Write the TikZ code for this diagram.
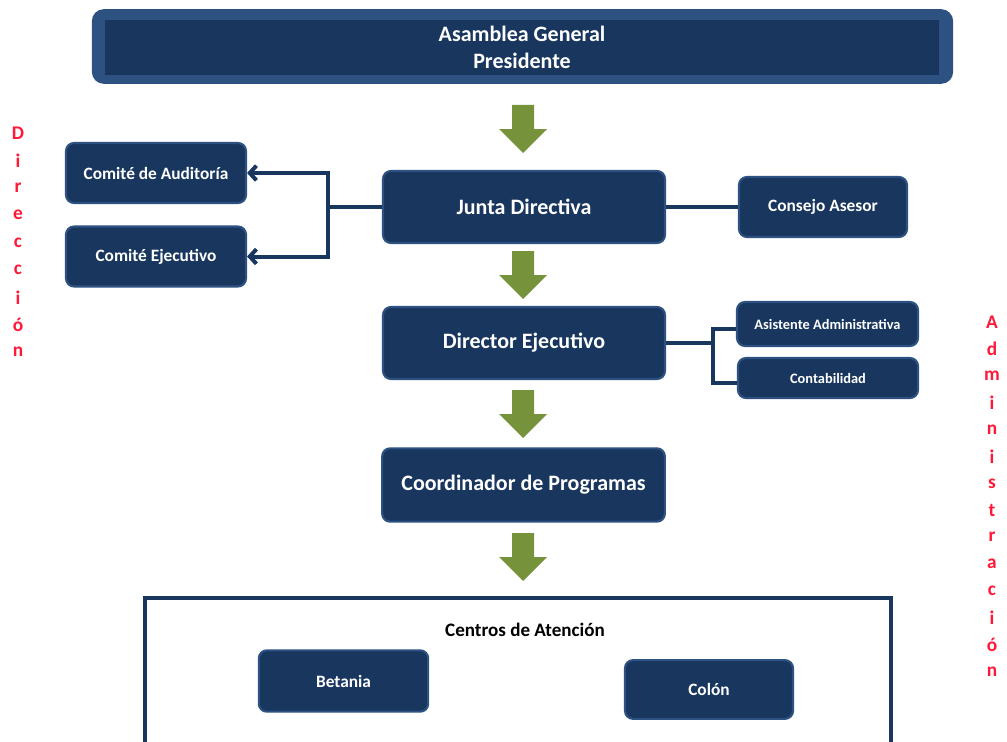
\documentclass[tikz,border=0pt]{standalone}
\usepackage{fontspec}
\setmainfont{Carlito}
\usetikzlibrary{arrows.meta}

\definecolor{navy}{RGB}{24,54,94}
\definecolor{navyedge}{RGB}{45,82,130}
\definecolor{olive}{RGB}{118,147,60}
\definecolor{redtxt}{RGB}{255,24,56}

\tikzset{
  orgbox/.style={draw=navyedge, fill=navy, line width=1.6pt, rounded corners=6pt,
    text=white, font=\bfseries, align=center, inner sep=0pt},
  link/.style={draw=navy, line width=3pt},
  sidetxt/.style={text=redtxt, font=\bfseries\fontsize{14.5}{14.5}\selectfont, inner sep=0pt}
}

\begin{document}
\begin{tikzpicture}[x=0.75pt,y=0.75pt,yscale=-1,xscale=1]
\useasboundingbox (0,0) rectangle (1007,742);

%Shape: Rounded Rect (Asamblea)
\node [orgbox, line width=0pt, draw=none, fill=navyedge, rounded corners=9pt, minimum width=646pt, minimum height=56pt] (asambleaout) at (522.5,46.5) {};
\node [fill=navy, minimum width=625.5pt, minimum height=41pt, text=white, font=\bfseries\fontsize{16.5}{20}\selectfont, align=center, inner sep=0pt] (asamblea) at (522,47.5) {Asamblea General\\Presidente};

%Block arrows
\foreach \ay in {105,251,390,533}
  \fill [olive] (512,\ay) -- (534,\ay) -- (534,\ay+24) -- (547,\ay+24) -- (523,\ay+48) -- (499,\ay+24) -- (512,\ay+24) -- cycle ;

% Text Node
\node [orgbox, minimum width=211.5pt, minimum height=54pt, font=\bfseries\fontsize{16.5}{18}\selectfont] (junta) at (524,207) {Junta Directiva};
% Text Node
\node [orgbox, minimum width=135pt, minimum height=45pt, font=\bfseries\fontsize{13}{15}\selectfont] (auditoria) at (156,173) {Comité de Auditoría};
% Text Node
\node [orgbox, minimum width=135pt, minimum height=45pt, font=\bfseries\fontsize{13}{15}\selectfont] (ejecutivo) at (156,256.5) {Comité Ejecutivo};
% Text Node
\node [orgbox, minimum width=126pt, minimum height=45pt, font=\bfseries\fontsize{13}{15}\selectfont] (asesor) at (823,207) {Consejo Asesor};
% Text Node
\node [orgbox, minimum width=211.5pt, minimum height=54pt, font=\bfseries\fontsize{16.5}{18}\selectfont] (director) at (524,343) {Director Ejecutivo};
% Text Node
\node [orgbox, minimum width=135.75pt, minimum height=33pt, font=\bfseries\fontsize{10.8}{12}\selectfont] (asistente) at (827.5,324) {Asistente Administrativa};
% Text Node
\node [orgbox, minimum width=135pt, minimum height=30pt, font=\bfseries\fontsize{10.8}{12}\selectfont] (contab) at (828,378) {Contabilidad};
% Text Node
\node [orgbox, minimum width=212pt, minimum height=55pt, font=\bfseries\fontsize{16.5}{18}\selectfont] (coord) at (523.5,485) {Coordinador de Programas};

%Straight Lines (Centros frame)
\draw [navy, line width=3pt] (145,745) -- (145,598) -- (891,598) -- (891,745) ;
% Text Node
\node [font=\bfseries\fontsize{14.3}{16}\selectfont, inner sep=0pt] (centros) at (525,630) {Centros de Atención};
% Text Node
\node [orgbox, minimum width=127pt, minimum height=46pt, font=\bfseries\fontsize{13}{15}\selectfont] (betania) at (343.5,681) {Betania};
% Text Node
\node [orgbox, minimum width=126pt, minimum height=44pt, font=\bfseries\fontsize{13}{15}\selectfont] (colon) at (709,689.5) {Colón};

%Connectors
\coordinate (jbranch) at (328,207);
\draw [link] (junta.west) -- (jbranch) ;
\draw [link, -{Straight Barb[length=5pt,width=11pt]}] (jbranch) |- (auditoria.east) ;
\draw [link, -{Straight Barb[length=5pt,width=11pt]}] (jbranch) |- (ejecutivo.east) ;
\draw [link] (junta.east) -- (asesor.west) ;
\coordinate (dbranch) at (713,343);
\draw [link] (director.east) -- (dbranch) ;
\draw [link] (dbranch) |- ([yshift=4pt]asistente.west) ;
\draw [link] (dbranch) |- ([yshift=4pt]contab.west) ;

%Side labels
\foreach \l [count=\i] in {D,i,r,e,c,c,i,ó,n}
  \node [sidetxt] (dir\i) at (18,{133+27.4*(\i-1)}) {\l};
\foreach \l [count=\i] in {A,d,m,i,n,i,s,t,r,a,c,i,ó,n}
  \node [sidetxt] (adm\i) at (992,{322+26.9*(\i-1)}) {\l};

\end{tikzpicture}
\end{document}
